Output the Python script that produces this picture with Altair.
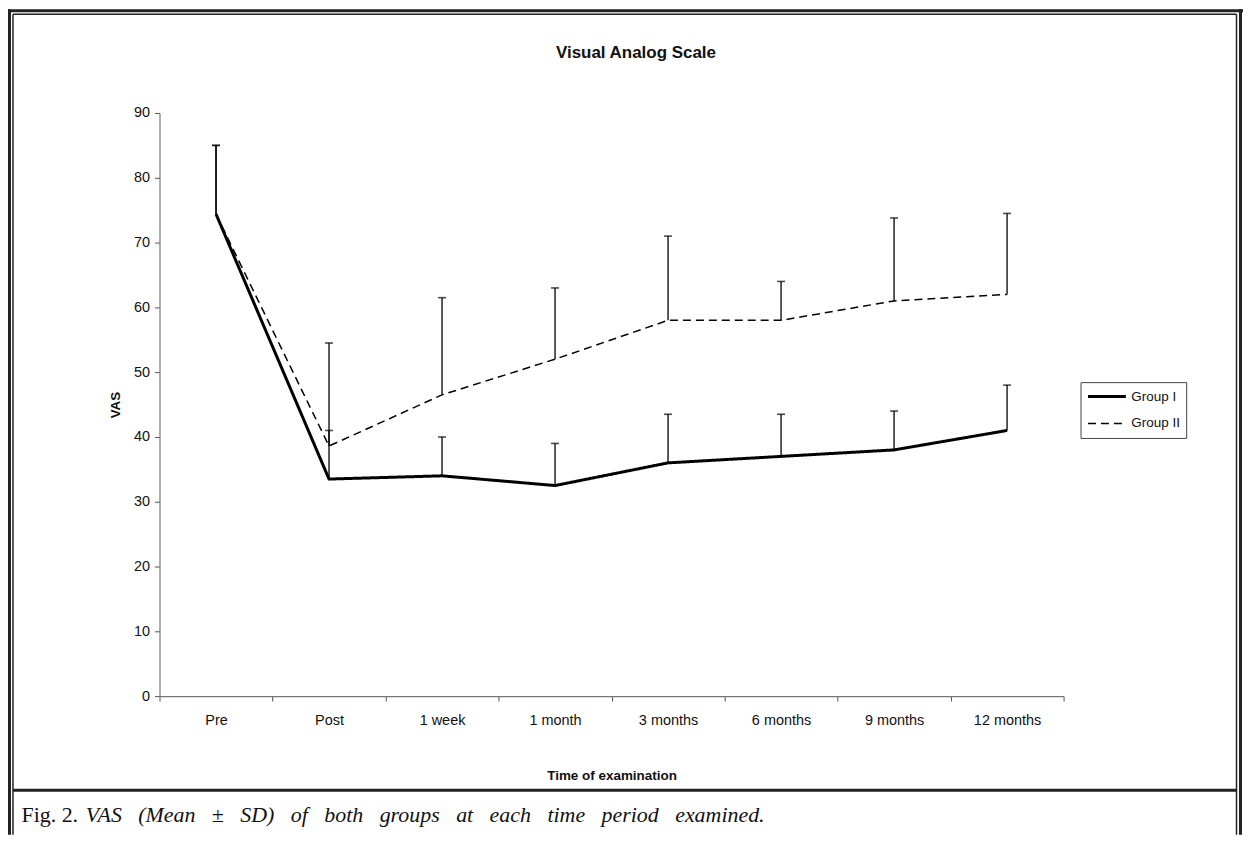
import json
import altair as alt
import pandas as pd

# ---------------- data ----------------
times = ["Pre", "Post", "1 week", "1 month", "3 months", "6 months", "9 months", "12 months"]
groups = ["Group I", "Group II"]
g1_mean = [74.4, 33.5, 34.0, 32.5, 36.0, 37.0, 38.0, 41.0]
g1_upper = [85.0, 41.0, 40.0, 39.0, 43.5, 43.5, 44.0, 48.0]
g2_mean = [74.4, 38.6, 46.5, 52.0, 58.0, 58.0, 61.0, 62.0]
g2_upper = [85.0, 54.5, 61.5, 63.0, 71.0, 64.0, 73.8, 74.5]

rows = []
for gname, means, uppers in [("Group I", g1_mean, g1_upper), ("Group II", g2_mean, g2_upper)]:
    for i, t in enumerate(times):
        rows.append({"time": t, "pos": i + 0.5, "group": gname,
                     "mean": means[i], "upper": uppers[i]})
df = pd.DataFrame(rows)
dummy = pd.DataFrame({"d": [0]})

W, H = 907, 585
N = len(times)
SANS = "Liberation Sans"
SERIF = "Liberation Serif"

labels_js = json.dumps(times)
x_scale = alt.Scale(domain=[0, N], nice=False, zero=False)
y_scale = alt.Scale(domain=[0, 90], nice=False)

x_main = alt.X(
    "pos:Q", scale=x_scale,
    axis=alt.Axis(
        values=list(range(N + 1)),
        labelExpr=f"datum.value < {N} ? {labels_js}[datum.value] : ''",
        labelOffset=W / N / 2, labelFlush=False, labelOverlap=False,
        title="Time of examination", titleY=80, titleBaseline="middle",
        tickSize=5, labelPadding=12, grid=False,
    ),
)
y_main = alt.Y(
    "mean:Q", scale=y_scale,
    axis=alt.Axis(
        values=list(range(0, 91, 10)), title="VAS", titleX=-44, titleY=H / 2,
        titleBaseline="middle", tickSize=5, labelPadding=5, grid=False,
    ),
)

legend = alt.Legend(title=None, orient="none", legendX=924, legendY=270)

lines = alt.Chart(df).mark_line(color="black").encode(
    x=x_main,
    y=y_main,
    strokeDash=alt.StrokeDash("group:N", scale=alt.Scale(domain=groups, range=[[1, 0], [8, 5]]), legend=legend),
    strokeWidth=alt.StrokeWidth("group:N", scale=alt.Scale(domain=groups, range=[3, 1.5]), legend=legend),
    detail="group:N",
)

err = alt.Chart(df).mark_rule(color="black", strokeWidth=1.3).encode(
    x=alt.X("pos:Q", scale=x_scale),
    y=alt.Y("mean:Q", scale=y_scale),
    y2="upper:Q",
)
caps = alt.Chart(df).mark_tick(color="black", orient="horizontal", size=8, thickness=1.6).encode(
    x=alt.X("pos:Q", scale=x_scale),
    y=alt.Y("upper:Q", scale=y_scale),
)

# ---------------- decoration (frame, title, caption) ----------------
def hline(y, x1, x2, w):
    return alt.Chart(dummy).mark_rule(color="#222", strokeWidth=w).encode(
        x=alt.value(x1), x2=alt.value(x2), y=alt.value(y))

def vline(x, y1, y2, w):
    return alt.Chart(dummy).mark_rule(color="#222", strokeWidth=w).encode(
        x=alt.value(x), y=alt.value(y1), y2=alt.value(y2))

frame = [
    hline(-102.5, -152, 1087, 3),
    hline(-99, -147, 1080.5, 1.5),
    vline(-150.5, -104, 724, 3),
    vline(-147, -99, 724, 1.5),
    vline(1084.5, -104, 724, 3),
    vline(1080.5, -99, 724, 1.5),
    hline(679.5, -147, 1080.5, 3),
]

title = alt.Chart(dummy).mark_text(
    text="Visual Analog Scale", font=SANS, fontSize=17, fontWeight="bold",
    align="center", baseline="alphabetic", color="#111",
).encode(x=alt.value(478), y=alt.value(-55.5))

sp = "\u00a0\u00a0\u00a0"
cap1 = alt.Chart(dummy).mark_text(
    text="Fig. 2.", font=SERIF, fontSize=22, align="left", baseline="alphabetic", color="#111",
).encode(x=alt.value(-138.5), y=alt.value(711))
cap2 = alt.Chart(dummy).mark_text(
    text=sp.join("VAS (Mean ± SD) of both groups at each time period examined.".split(" ")),
    font=SERIF, fontSize=22, fontStyle="italic", align="left", baseline="alphabetic", color="#111",
).encode(x=alt.value(-74), y=alt.value(711))

chart = alt.layer(
    *frame, err, caps, lines, title, cap1, cap2
).properties(
    width=W, height=H,
    autosize=alt.AutoSizeParams(type="none"),
    padding={"left": 152, "top": 104, "right": 180, "bottom": 139},
    background="white",
).configure_view(
    strokeWidth=0
).configure_axis(
    labelFont=SANS, labelFontSize=14.5, labelColor="#111",
    titleFont=SANS, titleFontSize=13.5, titleFontWeight="bold", titleColor="#111",
    domainColor="#777", tickColor="#555", domainWidth=1.2,
).configure_legend(
    symbolType="stroke", symbolStrokeColor="black", symbolSize=1444,
    labelFont=SANS, labelFontSize=13.5, labelColor="#111", labelOffset=4,
    strokeColor="#444", fillColor="white", padding=6, rowPadding=10, clipHeight=17,
)

chart.save("out.html", embed_options={"renderer": "svg", "actions": False})
